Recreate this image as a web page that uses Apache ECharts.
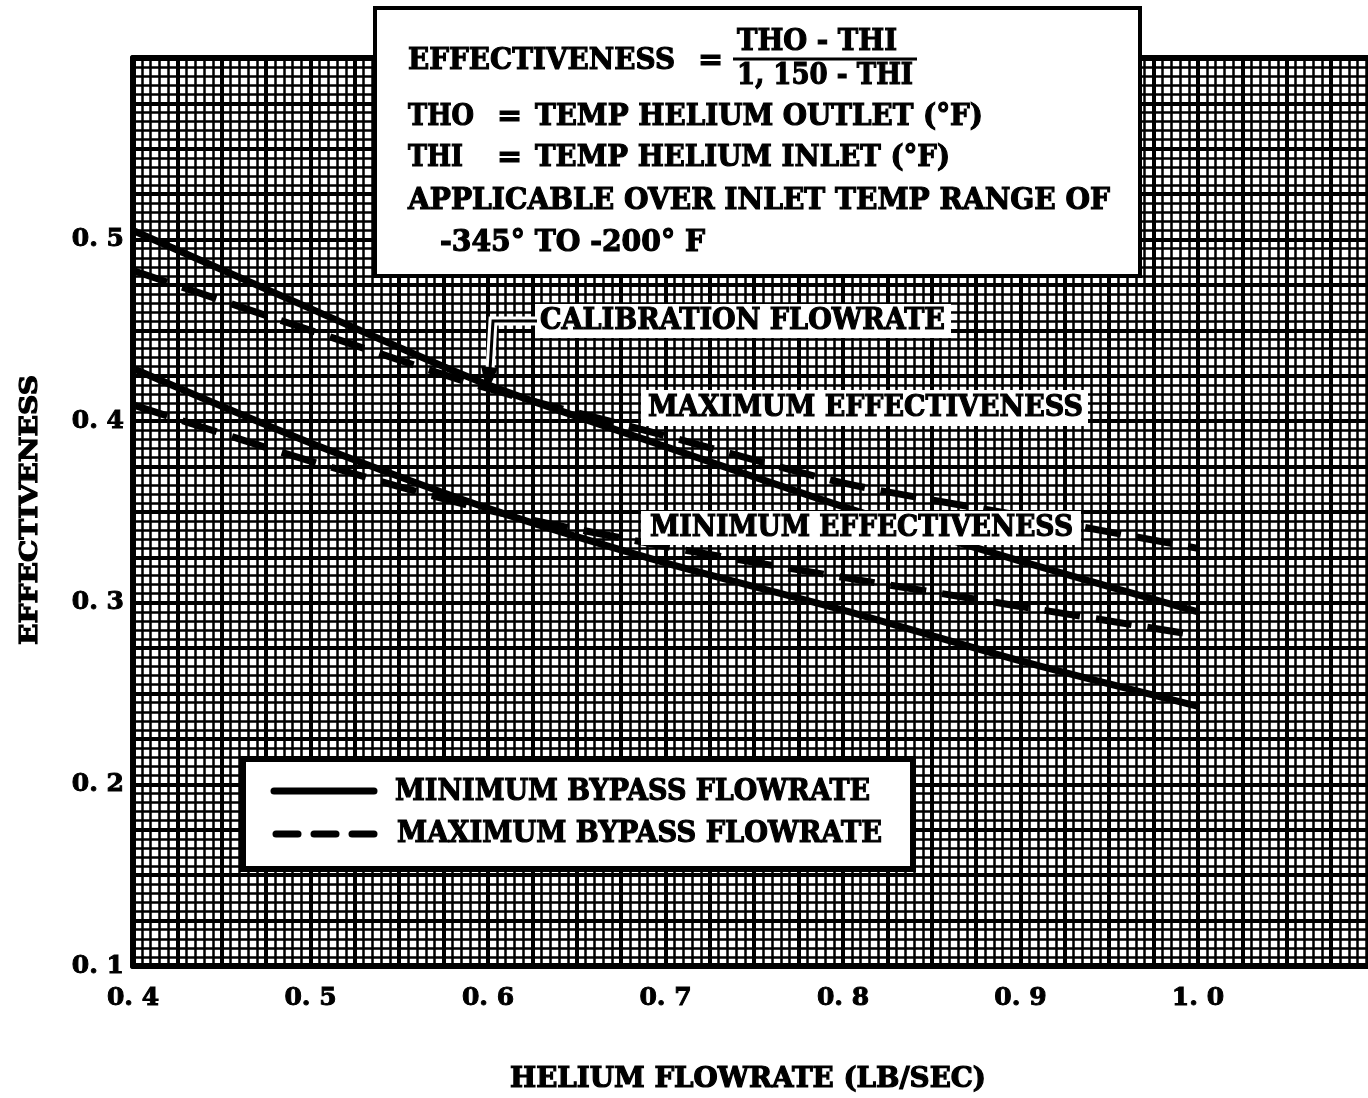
<!DOCTYPE html>
<html>
<head>
<meta charset="utf-8">
<script src="https://cdn.jsdelivr.net/npm/echarts@6/dist/echarts.min.js"></script>
<style>
  html, body { margin: 0; padding: 0; background: #fff; }
  #chart { width: 1368px; height: 1098px; }
</style>
</head>
<body>
<div id="chart"></div>
<script>
// Helium flowrate (lb/sec) at which the curves are read
const flowrate = [0.4, 0.5, 0.6, 0.7, 0.8, 0.9, 1.0];

// Maximum effectiveness band
const maxEffMinBypass = [0.505, 0.462, 0.420, 0.386, 0.353, 0.323, 0.295];
const maxEffMaxBypass = [0.483, 0.450, 0.418, 0.392, 0.366, 0.348, 0.330];

// Minimum effectiveness band
const minEffMinBypass = [0.429, 0.388, 0.352, 0.322, 0.296, 0.268, 0.243];
const minEffMaxBypass = [0.409, 0.378, 0.351, 0.331, 0.314, 0.298, 0.282];

// Axis ranges and tick steps
const xRange = [0.4, 1.0958];
const yRange = [0.1, 0.6];
const labelStep = 0.1;
const majorStep = 0.025;
const minorStep = 0.005;

const FONT = '"DejaVu Serif", "Liberation Serif", serif';

function pairs(ys) {
  return flowrate.map((x, i) => [x, ys[i]]);
}

// Heavy bold serif text; optionally squeezed horizontally to a set width
const measureCtx = document.createElement('canvas').getContext('2d');
function txt(str, x, y, size, width, extra) {
  measureCtx.font = 'bold ' + size + 'px ' + FONT;
  const w = measureCtx.measureText(str).width;
  const sx = width ? width / w : 1;
  return Object.assign({
    type: 'text',
    x: x, y: y,
    scaleX: sx,
    z: 100,
    style: {
      text: str,
      font: 'bold ' + size + 'px ' + FONT,
      fill: '#000',
      stroke: '#000',
      lineWidth: 1.2,
      textAlign: 'left',
      textVerticalAlign: 'middle'
    }
  }, extra || {});
}

function box(x, y, w, h, lw) {
  return {
    type: 'rect', z: 90,
    shape: { x: x, y: y, width: w, height: h },
    style: { fill: '#fff', stroke: lw ? '#000' : null, lineWidth: lw || 0 }
  };
}

function gridAxis(range, step, width, pos) {
  return {
    type: 'value', min: range[0], max: range[1], interval: step,
    position: pos,
    axisLine: { show: false }, axisTick: { show: false }, axisLabel: { show: false },
    splitLine: { show: true, lineStyle: { color: '#000', width: width } }
  };
}

const tickFmt = v => {
  const r = Math.round(v * 10) / 10;
  if (Math.abs(v - r) > 1e-6) return '';
  return r.toFixed(1).replace('.', '. ');
};

const tickLabel = {
  color: '#000', fontFamily: FONT, fontWeight: 'bold', fontSize: 25,
  textBorderColor: '#000', textBorderWidth: 1
};

const chart = echarts.init(document.getElementById('chart'), null, { renderer: 'canvas' });

const lineBase = { type: 'line', smooth: 0.25, symbol: 'none', xAxisIndex: 0, yAxisIndex: 0, z: 10 };

// Leader from the calibration label down to the curve, on a white halo
const leaderPts = [[537, 321], [493, 321], [490, 370]];

chart.setOption({
  backgroundColor: '#fff',
  animation: false,
  grid: { left: 133, right: 0, top: 58, bottom: 132 },
  xAxis: [
    {
      type: 'value', min: xRange[0], max: xRange[1], interval: labelStep,
      position: 'bottom',
      axisLine: { show: true, lineStyle: { color: '#000', width: 6 } },
      axisTick: { show: false },
      splitLine: { show: false },
      axisLabel: Object.assign({
        formatter: v => (v > 1.0001 ? '' : tickFmt(v)),
        showMaxLabel: false,
        margin: 20
      }, tickLabel)
    },
    gridAxis(xRange, minorStep, 2.5, 'bottom'),
    gridAxis(xRange, majorStep, 4, 'bottom'),
    {
      type: 'value', min: xRange[0], max: xRange[1], position: 'top',
      axisLine: { show: true, lineStyle: { color: '#000', width: 6 } },
      axisTick: { show: false }, axisLabel: { show: false }, splitLine: { show: false }
    }
  ],
  yAxis: [
    {
      type: 'value', min: yRange[0], max: yRange[1], interval: labelStep,
      position: 'left',
      axisLine: { show: true, lineStyle: { color: '#000', width: 6 } },
      axisTick: { show: false },
      splitLine: { show: false },
      axisLabel: Object.assign({
        formatter: v => (v > 0.55 ? '' : tickFmt(v)),
        margin: 9
      }, tickLabel)
    },
    gridAxis(yRange, minorStep, 2.5, 'left'),
    gridAxis(yRange, majorStep, 4, 'left')
  ],
  series: [
    Object.assign({}, lineBase, {
      name: 'MINIMUM BYPASS FLOWRATE', data: pairs(maxEffMinBypass),
      lineStyle: { color: '#000', width: 7 }
    }),
    Object.assign({}, lineBase, {
      name: 'MAXIMUM BYPASS FLOWRATE', data: pairs(maxEffMaxBypass),
      lineStyle: { color: '#000', width: 7, type: [36, 16] }
    }),
    Object.assign({}, lineBase, {
      name: 'MINIMUM BYPASS FLOWRATE', data: pairs(minEffMinBypass),
      lineStyle: { color: '#000', width: 7 }
    }),
    Object.assign({}, lineBase, {
      name: 'MAXIMUM BYPASS FLOWRATE', data: pairs(minEffMaxBypass),
      lineStyle: { color: '#000', width: 7, type: [36, 16] }
    })
  ],
  graphic: [
    // Definition box
    box(375, 8, 765, 268, 4),
    txt('EFFECTIVENESS', 408, 61, 30, 267),
    txt('=', 698, 61, 30),
    txt('THO - THI', 737, 42, 30, 160),
    { type: 'line', z: 100, shape: { x1: 733, y1: 59, x2: 917, y2: 59 }, style: { stroke: '#000', lineWidth: 3 } },
    txt('1, 150 - THI', 737, 76, 30, 176),
    txt('THO', 408, 117, 30, 66),
    txt('=', 497, 117, 30),
    txt('TEMP HELIUM OUTLET (°F)', 535, 117, 30, 448),
    txt('THI', 408, 158, 30, 55),
    txt('=', 497, 158, 30),
    txt('TEMP HELIUM INLET (°F)', 535, 158, 30, 415),
    txt('APPLICABLE OVER INLET TEMP RANGE OF', 408, 201, 30, 702),
    txt('-345° TO -200° F', 440, 243, 30, 265),

    // Calibration flowrate callout
    { type: 'polyline', z: 95, shape: { points: leaderPts }, style: { stroke: '#fff', lineWidth: 9, fill: null } },
    box(535, 304, 416, 34),
    txt('CALIBRATION FLOWRATE', 540, 321, 29, 405),
    { type: 'polyline', z: 100, shape: { points: leaderPts }, style: { stroke: '#000', lineWidth: 3, fill: null } },
    { type: 'polygon', z: 100, shape: { points: [[481, 366], [498, 368], [487, 393]] }, style: { fill: '#000' } },

    // Band labels
    box(641, 390, 447, 36),
    txt('MAXIMUM EFFECTIVENESS', 648, 408, 29, 435),
    box(641, 511, 440, 34),
    txt('MINIMUM EFFECTIVENESS', 650, 528, 29, 423),

    // Legend
    box(243, 759, 670, 110, 6),
    { type: 'line', z: 100, shape: { x1: 274, y1: 791, x2: 374, y2: 791 }, style: { stroke: '#000', lineWidth: 7, lineCap: 'round' } },
    { type: 'line', z: 100, shape: { x1: 276, y1: 834, x2: 298, y2: 834 }, style: { stroke: '#000', lineWidth: 7, lineCap: 'round' } },
    { type: 'line', z: 100, shape: { x1: 314, y1: 834, x2: 336, y2: 834 }, style: { stroke: '#000', lineWidth: 7, lineCap: 'round' } },
    { type: 'line', z: 100, shape: { x1: 352, y1: 834, x2: 374, y2: 834 }, style: { stroke: '#000', lineWidth: 7, lineCap: 'round' } },
    txt('MINIMUM BYPASS FLOWRATE', 395, 792, 29, 475),
    txt('MAXIMUM BYPASS FLOWRATE', 397, 834, 29, 485),

    // Axis titles
    txt('HELIUM FLOWRATE (LB/SEC)', 510, 1080, 27, 476),
    txt('EFFECTIVENESS', 30, 645, 25, 270, { rotation: Math.PI / 2 })
  ]
});
</script>
</body>
</html>
